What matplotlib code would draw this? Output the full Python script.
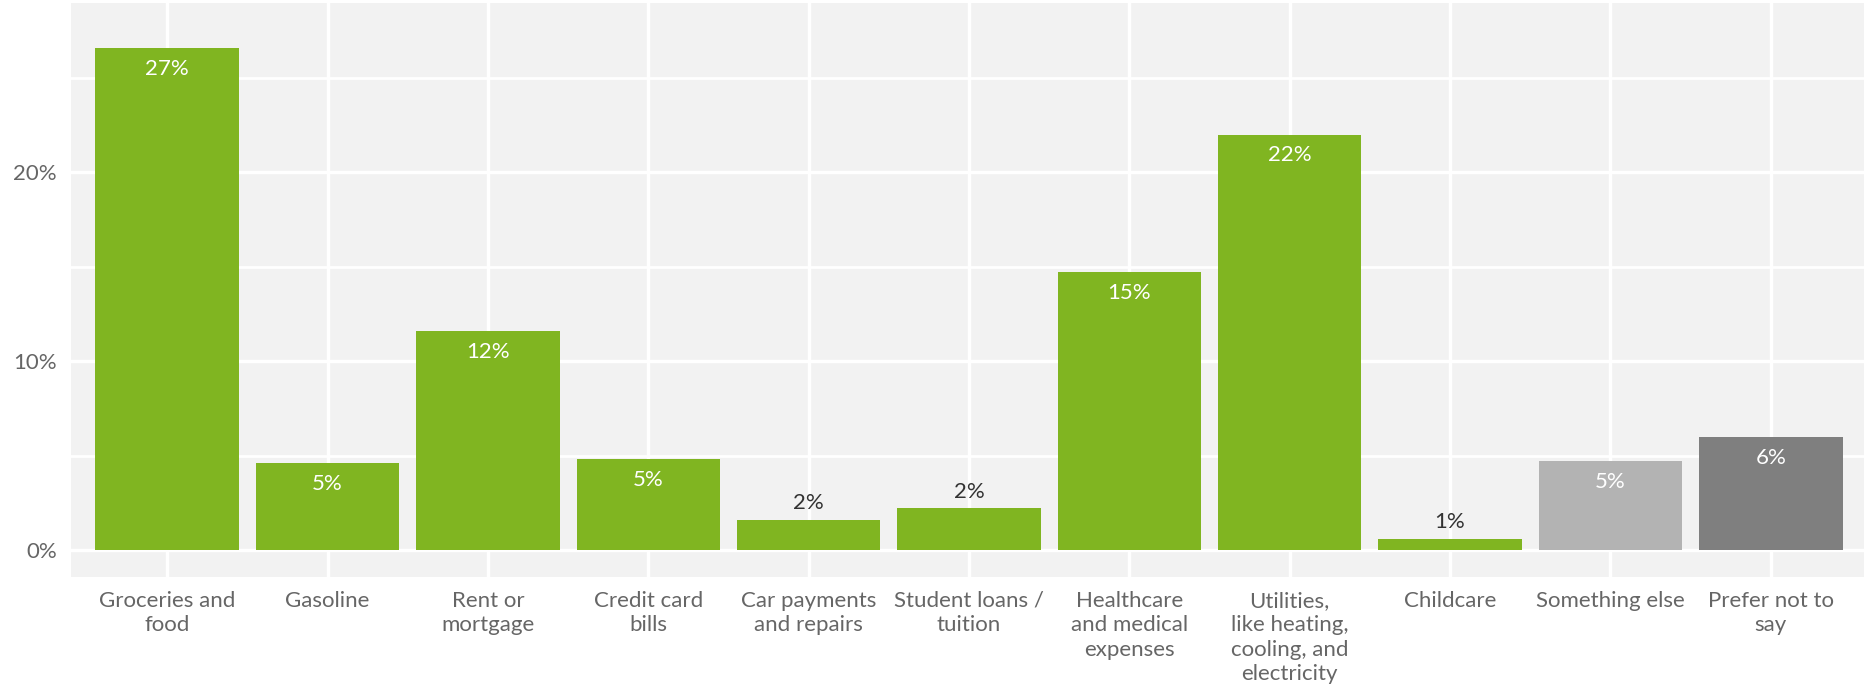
import matplotlib
matplotlib.use("Agg")
import matplotlib.pyplot as plt
from matplotlib.ticker import FixedLocator, FuncFormatter

plt.rcParams['font.family'] = ['Lato', 'DejaVu Sans']

# data
categories = ["Groceries and\nfood", "Gasoline", "Rent or\nmortgage", "Credit card\nbills",
              "Car payments\nand repairs", "Student loans /\ntuition",
              "Healthcare\nand medical\nexpenses",
              "Utilities,\nlike heating,\ncooling, and\nelectricity",
              "Childcare", "Something else", "Prefer not to\nsay"]
values = [26.6, 4.6, 11.6, 4.8, 1.6, 2.2, 14.7, 22.0, 0.6, 4.7, 6.0]
labels = ["27%", "5%", "12%", "5%", "2%", "2%", "15%", "22%", "1%", "5%", "6%"]
groups = ["main"] * 9 + ["other", "refused"]

colors = {"main": "#80b521", "other": "#b3b3b3", "refused": "#7f7f7f"}

W, H = 1864, 687
fig = plt.figure(figsize=(W / 100, H / 100), dpi=100)
ax = fig.add_axes([71 / W, 110 / H, 1796 / W, 574 / H])
ax.set_facecolor("#f2f2f2")

x = list(range(len(categories)))
ax.bar(x, values, width=0.895, color=[colors[g] for g in groups], zorder=2)

for xi, v, lab in zip(x, values, labels):
    if v > 4:
        ax.annotate(lab, (xi, v), xytext=(0, -15), textcoords="offset points",
                    ha="center", va="center", color="white", fontsize=16, zorder=3)
    else:
        ax.annotate(lab, (xi, v), xytext=(0, 12), textcoords="offset points",
                    ha="center", va="center", color="#333333", fontsize=16, zorder=3)

ax.set_xlim(-0.6, 10.6)
ax.set_ylim(-1.43, 28.97)
ax.set_xticks(x)
ax.set_xticklabels(categories, fontsize=16, color="#666666", linespacing=1.27)
ax.yaxis.set_major_locator(FixedLocator([0, 10, 20]))
ax.yaxis.set_minor_locator(FixedLocator([5, 15, 25]))
ax.yaxis.set_major_formatter(FuncFormatter(lambda v, p: f"{v:.0f}%"))
ax.tick_params(axis="y", labelsize=16, labelcolor="#666666", length=0, pad=10)
ax.tick_params(axis="y", which="minor", length=0)
ax.tick_params(axis="x", length=0, pad=10)

ax.grid(which="major", axis="both", color="white", linewidth=2.4, zorder=1)
ax.grid(which="minor", axis="y", color="white", linewidth=2.0, zorder=1)
ax.set_axisbelow(True)
for s in ax.spines.values():
    s.set_visible(False)

fig.savefig("out.png", dpi=100)
